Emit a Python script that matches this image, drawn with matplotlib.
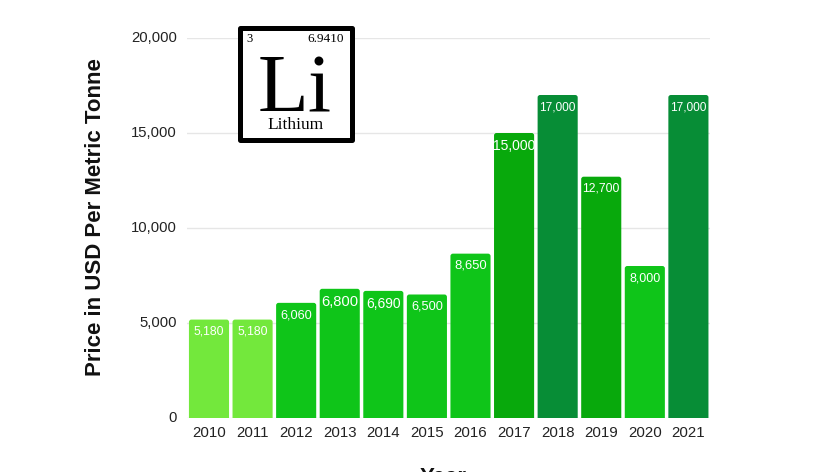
import matplotlib
matplotlib.use("Agg")
import matplotlib.pyplot as plt
from matplotlib.patches import PathPatch, Rectangle
from matplotlib.path import Path

years = ["2010", "2011", "2012", "2013", "2014", "2015", "2016", "2017", "2018", "2019", "2020", "2021"]
prices = [5180, 5180, 6060, 6800, 6690, 6500, 8650, 15000, 17000, 12700, 8000, 17000]
labels = ["5,180", "5,180", "6,060", "6,800", "6,690", "6,500", "8,650", "15,000", "17,000", "12,700", "8,000", "17,000"]
label_sizes = [8.8, 8.8, 9.2, 10.6, 10, 9.2, 9.4, 10, 8.6, 8.8, 9, 8.6]
colors = ["#73e83c", "#73e83c", "#0fc519", "#0fc519", "#0fc519", "#0fc519", "#0fc519",
          "#08a90c", "#078d36", "#08a90c", "#0fc519", "#078d36"]
yticks = [0, 5000, 10000, 15000, 20000]

W, H = 840, 472
plt.rcParams['font.family'] = ['Liberation Sans', 'DejaVu Sans']

fig = plt.figure(figsize=(W / 100, H / 100), dpi=100)
ax = fig.add_axes([187.2 / W, 1 - 418 / H, 523 / W, 380 / H])
ax.set_xlim(-0.5, 11.5)
ax.set_ylim(0, 20000)

# px -> data scale, so the corners come out round
x_per_px = 12 / 523
y_per_px = 20000 / 380


def rounded_bar(x, h, color, width=0.92, r=2.5):
    rx, ry = r * x_per_px, r * y_per_px
    l, rr = x - width / 2, x + width / 2
    verts = [(l, 0), (l, h - ry), (l, h), (l + rx, h), (rr - rx, h), (rr, h), (rr, h - ry), (rr, 0), (l, 0)]
    codes = [Path.MOVETO, Path.LINETO, Path.CURVE3, Path.CURVE3, Path.LINETO,
             Path.CURVE3, Path.CURVE3, Path.LINETO, Path.CLOSEPOLY]
    ax.add_patch(PathPatch(Path(verts, codes), facecolor=color, edgecolor="none", zorder=3))


for i, p in enumerate(prices):
    rounded_bar(i, p, colors[i])
    ax.annotate(labels[i], (i, p), xytext=(0, -4.5), textcoords="offset points", ha="center", va="top",
                color="white", fontsize=label_sizes[i], zorder=4)

ax.set_xticks(range(len(years)))
ax.set_xticklabels(years, fontsize=10.8, color="#222222")
ax.set_yticks(yticks)
ax.set_yticklabels([f"{t:,}" for t in yticks], fontsize=10.7, color="#222222", va="center")
ax.tick_params(axis="both", length=0)
ax.tick_params(axis="x", pad=6)
ax.tick_params(axis="y", pad=7.5)
ax.grid(axis="y", color="#e6e6e6", linewidth=1, zorder=0)
ax.set_axisbelow(True)
for s in ax.spines.values():
    s.set_visible(False)

fig.text(96 / W, 1 - 217 / H, "Price in USD Per Metric Tonne", rotation=90, ha="center", va="center",
         fontsize=16, fontweight="bold", color="#111111")
fig.text(443 / W, 1 - 467 / H, "Year", ha="center", va="top", fontsize=16, fontweight="bold", color="#111111")

# element tile, laid out in pixels
def px(x, y):
    return x / W, 1 - y / H


x0, y0 = px(239.5, 28.5)
x1, y1 = px(351.5, 140.5)
fig.add_artist(Rectangle((x0, y1), x1 - x0, y0 - y1, transform=fig.transFigure, facecolor="white",
                         edgecolor="black", linewidth=3.6, joinstyle="round", zorder=10))
serif = ['Liberation Serif', 'DejaVu Serif']
fig.text(*px(246, 39), "3", family=serif, fontsize=9, ha="left", va="center", zorder=11)
fig.text(*px(344, 39), "6.9410", family=serif, fontsize=9.5, ha="right", va="center", zorder=11)
fig.text(*px(295, 112), "Li", family=serif, fontsize=60, ha="center", va="baseline", zorder=11)
fig.text(*px(295.5, 125), "Lithium", family=serif, fontsize=12.5, ha="center", va="center", zorder=11)

fig.savefig("out.png", dpi=100)
